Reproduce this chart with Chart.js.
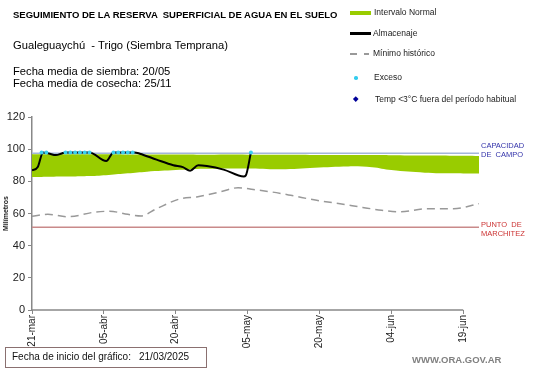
<!DOCTYPE html>
<html>
<head>
<meta charset="utf-8">
<script src="https://cdn.jsdelivr.net/npm/chart.js@4"></script>
<style>
body{margin:0;background:#fff;font-family:"Liberation Sans",Arial,sans-serif;}
#wrap{position:relative;width:541px;height:368px;}
canvas{position:absolute;left:0;top:0;}
.t{position:absolute;white-space:pre;color:#000;}
.lg{position:absolute;font-size:8.5px;color:#222;white-space:pre;}
</style>
</head>
<body>
<div id="wrap">
<canvas id="myChart" width="541" height="368"></canvas>
<div class="t" style="left:13px;top:9px;font-size:9.5px;font-weight:bold;">SEGUIMIENTO DE LA RESERVA  SUPERFICIAL DE AGUA EN EL SUELO</div>
<div class="t" style="left:13px;top:39px;font-size:11.2px;">Gualeguaychú  - Trigo (Siembra Temprana)</div>
<div class="t" style="left:13px;top:66px;font-size:11.2px;line-height:11.7px;">Fecha media de siembra: 20/05
Fecha media de cosecha: 25/11</div>

<div style="position:absolute;left:350px;top:11px;width:21px;height:4px;background:#99cc00;"></div>
<div class="lg" style="left:374px;top:7px;">Intervalo Normal</div>
<div style="position:absolute;left:350px;top:32px;width:21px;height:2.5px;background:#000;"></div>
<div class="lg" style="left:373px;top:28px;">Almacenaje</div>
<div style="position:absolute;left:350px;top:53px;width:7px;height:1.5px;background:#999;"></div>
<div style="position:absolute;left:364px;top:53px;width:5px;height:1.5px;background:#999;"></div>
<div class="lg" style="left:373px;top:48px;">Mínimo histórico</div>
<div style="position:absolute;left:354px;top:76px;width:3.5px;height:3.5px;border-radius:50%;background:#33ccee;"></div>
<div class="lg" style="left:374px;top:72px;">Exceso</div>
<div style="position:absolute;left:354px;top:97px;width:3.5px;height:3.5px;transform:rotate(45deg);background:#000099;"></div>
<div class="lg" style="left:375px;top:94px;">Temp &lt;3°C fuera del período habitual</div>

<div class="t" style="left:481px;top:141px;font-size:7.5px;line-height:9px;color:#3333aa;">CAPACIDAD
DE  CAMPO</div>
<div class="t" style="left:481px;top:220px;font-size:7.5px;line-height:9px;color:#cc3333;">PUNTO  DE
MARCHITEZ</div>

<div style="position:absolute;left:5px;top:347px;width:200px;height:19px;border:1px solid #8a7070;"></div>
<div class="t" style="left:12px;top:351px;font-size:10px;color:#111;">Fecha de inicio del gráfico:</div>
<div class="t" style="left:139px;top:351px;font-size:10px;color:#111;">21/03/2025</div>
<div class="t" style="left:412px;top:354px;font-size:9.5px;font-weight:bold;color:#808080;">WWW.ORA.GOV.AR</div>
</div>
<script>
// dias desde el 21-mar
const tickLabels = ['21-mar','05-abr','20-abr','05-may','20-may','04-jun','19-jun'];

const bandDays  = [0, 4, 8, 12, 16, 20, 24, 30, 36, 45, 52, 59, 66, 71, 75, 82, 88, 93.3];
const bandLow   = [82.7, 82.9, 83, 83.3, 84, 85, 86, 87, 87.8, 88, 87.5, 88.5, 89.3, 88.8, 87, 85.4, 85, 84.8];
const bandHigh  = [96.8, 96.8, 96.8, 96.8, 96.8, 96.7, 96.7, 96.7, 96.6, 96.6, 96.5, 96.4, 96.3, 96.3, 96.2, 96, 95.9, 95.8];

const storageDays = [0, 1.2, 2.3, 3.5, 5, 6.2, 7, 12, 15.5, 17, 21.4, 22.5, 26, 29.5, 31.5, 33, 34.7, 36.5, 40, 44.2, 44.6, 45.7];
const storageVals = [86.8, 88.9, 98, 97.3, 96.3, 97.3, 98, 98, 92.6, 98, 98, 97.2, 93.5, 90, 88.8, 86.6, 90, 89.5, 87.3, 83, 83.5, 98];

const minDays = [0, 3.3, 7.5, 13, 16.2, 20, 22.8, 26, 31, 34.4, 39.2, 43, 47, 50, 54, 59.4, 64.3, 69, 73, 76.8, 82.4, 88, 93.3];
const minVals = [58.3, 59.5, 58, 60.8, 61.4, 59.5, 58.5, 63, 69.2, 70.3, 73.4, 76, 74.6, 73.4, 71.3, 68.2, 66.1, 63.8, 62, 61, 63, 63, 66.1];

const excessDays = [2, 3, 7, 8, 9, 10, 11, 12, 17, 18, 19, 20, 21, 45.7];
const excessVals = [98, 98, 98, 98, 98, 98, 98, 98, 98, 98, 98, 98, 98, 98];

const capacidad = 97.5;
const marchitez = 51.5;
const lastDay = 93.3;

function pts(xs, ys){ return xs.map((x, i) => ({x: x, y: ys[i]})); }

const xAxisLine = {
  id: 'xAxisLine',
  afterDraw(chart){
    const xs = chart.scales.x, ys = chart.scales.y, ctx = chart.ctx;
    ctx.save();
    ctx.strokeStyle = '#888';
    ctx.lineWidth = 1.5;
    ctx.beginPath();
    ctx.moveTo(xs.getPixelForValue(0), ys.getPixelForValue(0));
    ctx.lineTo(xs.getPixelForValue(90), ys.getPixelForValue(0));
    ctx.stroke();
    ctx.restore();
  }
};

// order: the lower number is drawn on top
const config = {
  type: 'line',
  data: {
    datasets: [
      {label: 'low', order: 8, data: pts(bandDays, bandLow), borderWidth: 0, pointRadius: 0, fill: false, tension: 0.4},
      {label: 'Intervalo Normal', order: 7, data: pts(bandDays, bandHigh), borderWidth: 0, pointRadius: 0, fill: '-1', backgroundColor: '#99cc00', tension: 0.4},
      {label: 'cap', order: 5, data: pts([0, lastDay], [capacidad, capacidad]), borderColor: '#a3b6d9', borderWidth: 1.5, pointRadius: 0},
      {label: 'pm', order: 5, data: pts([0, lastDay], [marchitez, marchitez]), borderColor: '#c98a8a', borderWidth: 1.5, pointRadius: 0},
      {label: 'Mínimo histórico', order: 4, data: pts(minDays, minVals), borderColor: '#999', borderWidth: 1.5, borderDash: [8, 5], pointRadius: 0, cubicInterpolationMode: 'monotone'},
      {label: 'Almacenaje', order: 2, data: pts(storageDays, storageVals), borderColor: '#000', borderWidth: 2, pointRadius: 0, cubicInterpolationMode: 'monotone'},
      {label: 'Exceso', order: 1, data: pts(excessDays, excessVals), showLine: false, pointRadius: 2, pointBackgroundColor: '#3cd0f0', pointBorderWidth: 0}
    ]
  },
  options: {
    responsive: false,
    animation: false,
    layout: {padding: {left: 0, top: 117, right: 62, bottom: 0}},
    plugins: {legend: {display: false}, tooltip: {enabled: false}},
    scales: {
      x: {
        type: 'linear', min: 0, max: lastDay,
        afterFit: s => { s.height = 58; },
        afterBuildTicks: s => { s.ticks = s.ticks.filter(t => t.value % 15 === 0); },
        ticks: {stepSize: 15, minRotation: 90, maxRotation: 90, padding: 1, color: '#222',
          font: {family: 'Liberation Sans', size: 10},
          callback: v => tickLabels[v / 15]},
        grid: {drawOnChartArea: false, tickLength: 4, color: '#888'},
        border: {display: false}
      },
      y: {
        min: 0, max: 120,
        afterFit: s => { s.width = 32; },
        ticks: {stepSize: 20, padding: 3, color: '#222', font: {family: 'Liberation Sans', size: 11}},
        grid: {drawOnChartArea: false, tickLength: 4, color: '#888'},
        border: {color: '#888', width: 1.5},
        title: {display: true, text: 'Milímetros', color: '#222', padding: {top: 2, bottom: 0},
          font: {family: 'Liberation Sans', size: 7, weight: 'bold'}}
      }
    }
  },
  plugins: [xAxisLine]
};

var myChart = new Chart(document.getElementById('myChart'), config);
</script>
</body>
</html>
